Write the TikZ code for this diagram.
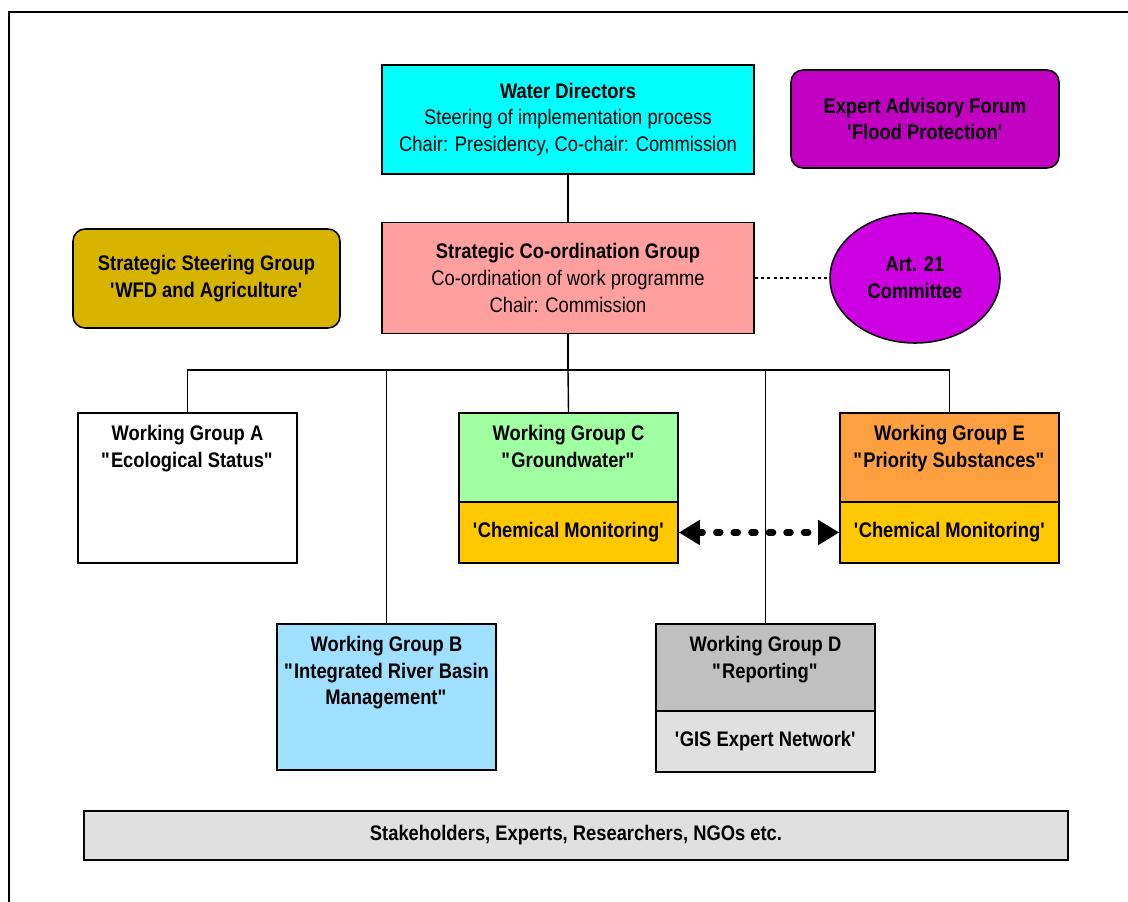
\documentclass[tikz,border=0pt]{standalone}
\usepackage{fontspec}
\setmainfont{Liberation Sans}[FakeStretch=0.87]
\usetikzlibrary{arrows.meta, positioning, shapes.geometric}

\definecolor{wdcyan}{HTML}{00FFFF}
\definecolor{eafpurple}{HTML}{C200C2}
\definecolor{artpurple}{HTML}{CC00E0}
\definecolor{ssgold}{HTML}{D6B400}
\definecolor{scgpink}{HTML}{FF9F9F}
\definecolor{wgcgreen}{HTML}{A0FFA0}
\definecolor{wgeorange}{HTML}{FFA040}
\definecolor{monigold}{HTML}{FFC800}
\definecolor{wgbblue}{HTML}{A0E0FF}
\definecolor{wgdgray}{HTML}{C0C0C0}
\definecolor{lightgray}{HTML}{E0E0E0}

\newcommand{\dq}{\textquotedbl}
\newcommand{\sq}{\textquotesingle}

\begin{document}
\begin{tikzpicture}[x=0.025cm, y=-0.025cm,
  font=\fontsize{15}{19}\selectfont,
  wh/.style 2 args = {minimum width=#1*0.025cm, minimum height=#2*0.025cm},
  orgbox/.style = {draw, line width=1.1pt, inner sep=0pt, align=center},
  roundbox/.style = {orgbox, rounded corners=0.3cm},
  boldtext/.style = {font=\fontsize{15}{19}\selectfont\bfseries},
  wgbox/.style = {orgbox, wh={219}{#1}},
  wglabel/.style = {below=0.2cm, align=center, boldtext},
  link/.style = {line width=1pt}
]
\useasboundingbox (0,0) rectangle (1128,901);
\draw[line width=1.3pt] (1140,12) -| (9,910);

% top level
\node[orgbox, fill=wdcyan, wh={372}{109}] (wd) at (568,119.5)
  {\textbf{Water Directors}\\Steering of implementation process\\Chair: Presidency, Co-chair: Commission};
\node[roundbox, fill=eafpurple, wh={268}{98}, boldtext] (eaf) at (925,119)
  {Expert Advisory Forum\\\sq Flood Protection\sq};

% co-ordination level
\node[orgbox, fill=scgpink, wh={372}{111}] (scg) at (568,278)
  {\textbf{Strategic Co-ordination Group}\\Co-ordination of work programme\\Chair: Commission};
\node[roundbox, fill=ssgold, wh={267}{99}, boldtext] (ssg) at (206.5,278.5)
  {Strategic Steering Group\\\sq WFD and Agriculture\sq};
\node[ellipse, draw, line width=1.1pt, fill=artpurple, wh={170}{130}, inner sep=0pt, align=center,
  boldtext] (art) at (915,278)
  {Art. 21\\Committee};

% working groups
\node[wgbox=150, fill=white] (wga) at (187.5,488) {};
\node[wglabel] at (wga.north) {Working Group A\\\dq Ecological Status\dq};

\node[wgbox=89, fill=wgcgreen] (wgc) at (568.5,457.5) {};
\node[wglabel] at (wgc.north) {Working Group C\\\dq Groundwater\dq};
\node[wgbox=61, fill=monigold, boldtext] (wgcm) at (568.5,532.5) {\sq Chemical Monitoring\sq};

\node[wgbox=89, fill=wgeorange] (wge) at (949.5,457.5) {};
\node[wglabel] at (wge.north) {Working Group E\\\dq Priority Substances\dq};
\node[wgbox=61, fill=monigold, boldtext] (wgem) at (949.5,532.5) {\sq Chemical Monitoring\sq};

\node[wgbox=146, fill=wgbblue] (wgb) at (386.5,697) {};
\node[wglabel] at (wgb.north) {Working Group B\\\dq Integrated River Basin\\Management\dq};

\node[wgbox=87, fill=wgdgray] (wgd) at (765.5,667.5) {};
\node[wglabel] at (wgd.north) {Working Group D\\\dq Reporting\dq};
\node[wgbox=61, fill=lightgray, boldtext] (wgdn) at (765.5,741.5) {\sq GIS Expert Network\sq};

\node[orgbox, fill=lightgray, wh={984}{49}, boldtext] (stake) at (576,835.5)
  {Stakeholders, Experts, Researchers, NGOs etc.};

% connectors
\coordinate (bus) at (568,370);
\draw[link] (wd) -- (scg);
\draw[link] (scg) -- (bus);
\draw[link] (wga.north) |- (bus) -| (wge.north);
\draw[link] (wgb.north) -- (wgb.north |- bus);
\draw[link] (wgc.north) -- (bus);
\draw[link] (wgd.north) -- (wgd.north |- bus);
\draw[line width=0.8pt, dash pattern=on 2pt off 2.5pt] (scg.east) -- (art.west);
\draw[line width=4.5pt, line cap=round, dash pattern=on 3pt off 9.5pt,
  {Triangle[length=15pt, width=17pt]}-{Triangle[length=15pt, width=17pt]}] (wgcm.east) -- (wgem.west);
\end{tikzpicture}
\end{document}
